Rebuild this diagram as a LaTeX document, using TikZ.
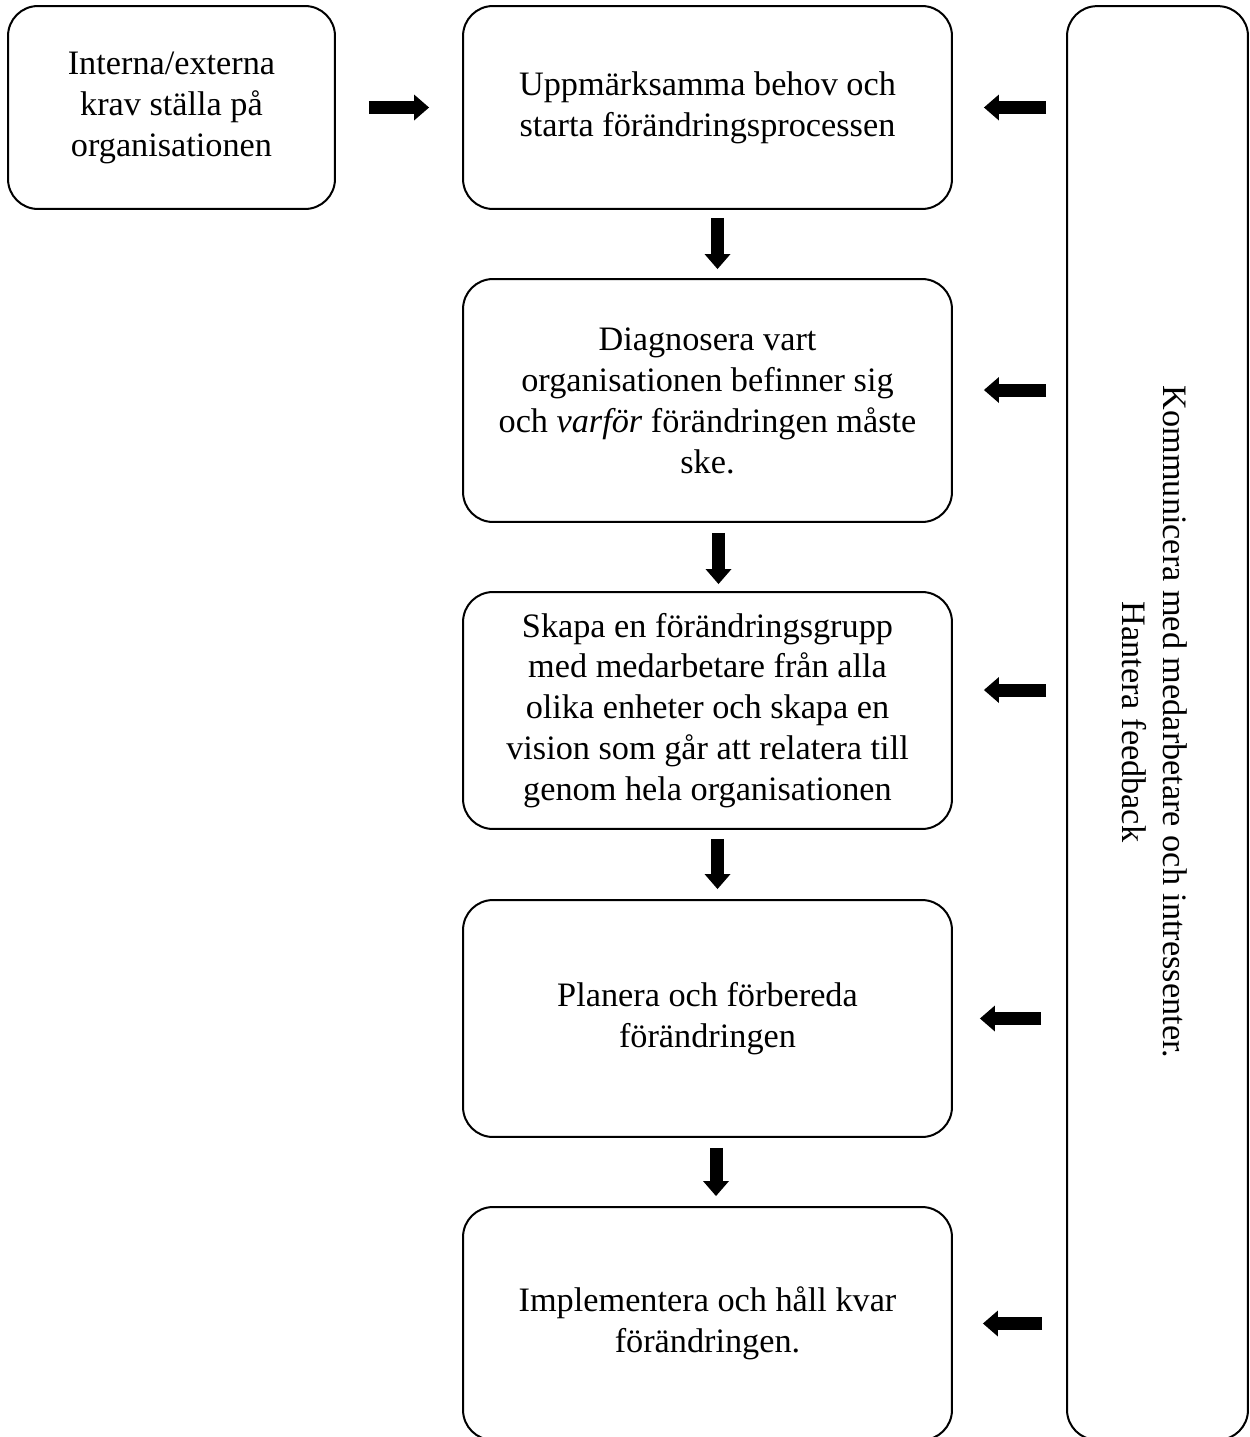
\documentclass[tikz,border=0pt]{standalone}
\usepackage{fontspec}
\setmainfont{Liberation Serif}
\usetikzlibrary{arrows.meta}

\begin{document}
\begin{tikzpicture}[x=0.02cm, y=-0.02cm,
    processbox/.style = {rectangle, draw, line width=0.04cm, rounded corners=0.6cm, align=center, inner sep=0pt, minimum width=9.78cm},
    blockarrow/.style = {line width=0.26cm, -{Triangle[length=0.3cm, width=0.52cm, line width=0pt]}},
    font=\fontsize{19.5}{23.3}\selectfont]
  \useasboundingbox (0, 0) rectangle (1250, 1437);

  % Process steps.
  \node at (171.5, 107.5) [processbox, minimum width=6.54cm, minimum height=4.06cm, name=Krav] {Interna/externa\\krav ställa på\\organisationen};
  \node at (707.5, 107.5) [processbox, minimum height=4.06cm, name=Uppmarksamma] {Uppmärksamma behov och\\starta förändringsprocessen};
  \node at (707.5, 400.5) [processbox, minimum height=4.86cm, name=Diagnosera] {Diagnosera vart\\organisationen befinner sig\\och \textit{varför} förändringen måste\\ske.};
  \node at (707.5, 710.5) [processbox, minimum height=4.74cm, name=Skapa] {Skapa en förändringsgrupp\\med medarbetare från alla\\olika enheter och skapa en\\vision som går att relatera till\\genom hela organisationen};
  \node at (707.5, 1018.5) [processbox, minimum height=4.74cm, name=Planera] {Planera och förbereda\\förändringen};
  \node at (707.5, 1323.5) [processbox, minimum height=4.66cm, name=Implementera] {Implementera och håll kvar\\förändringen.};

  % Communication column.
  \node at (1157.5, 723) [processbox, minimum width=3.62cm, minimum height=28.68cm, name=Kommunicera] {};
  \node at (1155, 722) [rotate=-90, align=center, name=KommuniceraText] {Kommunicera med medarbetare och intressenter.\\Hantera feedback};

  % Points where feedback arrows meet the steps.
  \coordinate (feedbackUppmarksamma) at (Uppmarksamma.east);
  \coordinate (feedbackDiagnosera) at ([yshift=0.21cm]Diagnosera.east);
  \coordinate (feedbackSkapa) at ([yshift=0.41cm]Skapa.east);
  \coordinate (feedbackPlanera) at (Planera.east);
  \coordinate (feedbackImplementera) at (Implementera.east);

  % Input.
  \draw [blockarrow, shorten <=0.66cm, shorten >=0.66cm] (Krav)
             to (Uppmarksamma);

  % Flow between steps.
  \draw [blockarrow, shorten <=0.16cm, shorten >=0.18cm] ([xshift=0.2cm]Uppmarksamma.south)
             to ([xshift=0.2cm]Diagnosera.north);
  \draw [blockarrow, shorten <=0.2cm, shorten >=0.14cm] ([xshift=0.22cm]Diagnosera.south)
             to ([xshift=0.22cm]Skapa.north);
  \draw [blockarrow, shorten <=0.18cm, shorten >=0.2cm] ([xshift=0.2cm]Skapa.south)
             to ([xshift=0.2cm]Planera.north);
  \draw [blockarrow, shorten <=0.2cm, shorten >=0.2cm] ([xshift=0.17cm]Planera.south)
             to ([xshift=0.17cm]Implementera.north);

  % Feedback.
  \draw [blockarrow, shorten <=0.4cm, shorten >=0.62cm] (Kommunicera.west |- feedbackUppmarksamma)
             to (feedbackUppmarksamma);
  \draw [blockarrow, shorten <=0.4cm, shorten >=0.62cm] (Kommunicera.west |- feedbackDiagnosera)
             to (feedbackDiagnosera);
  \draw [blockarrow, shorten <=0.4cm, shorten >=0.62cm] (Kommunicera.west |- feedbackSkapa)
             to (feedbackSkapa);
  \draw [blockarrow, shorten <=0.5cm, shorten >=0.54cm] (Kommunicera.west |- feedbackPlanera)
             to (feedbackPlanera);
  \draw [blockarrow, shorten <=0.48cm, shorten >=0.6cm] (Kommunicera.west |- feedbackImplementera)
             to (feedbackImplementera);
\end{tikzpicture}
\end{document}
